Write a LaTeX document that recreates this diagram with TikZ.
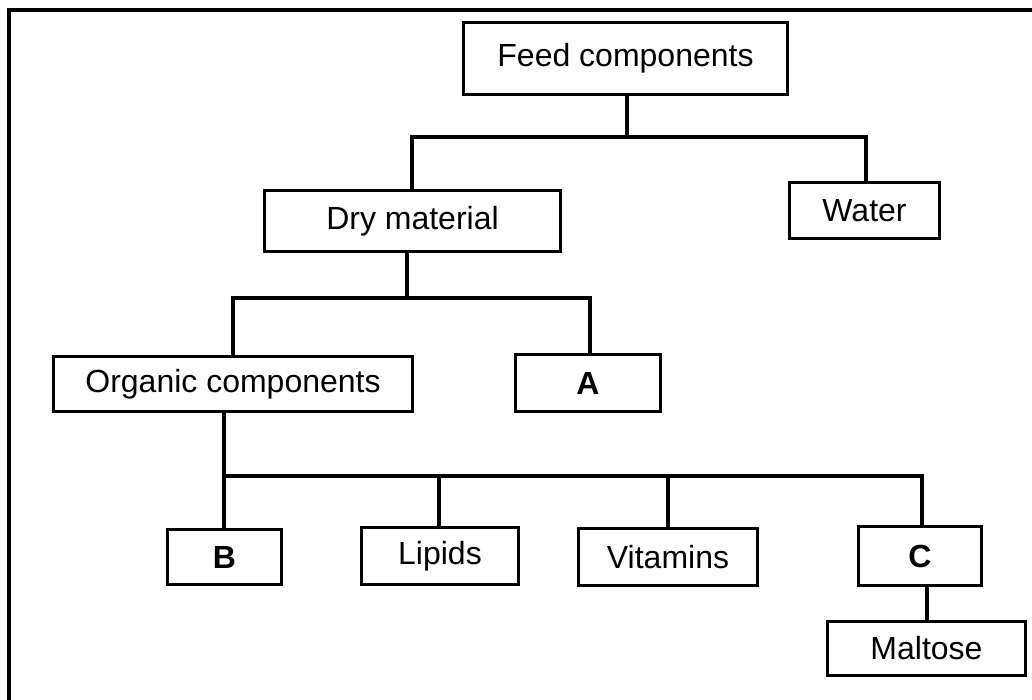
\documentclass[tikz,border=0pt]{standalone}
\usepackage{fontspec}
\setmainfont{Liberation Sans}
\begin{document}
\begin{tikzpicture}[x=1pt,y=-1pt,
  box/.style={draw, line width=3pt, rectangle, inner sep=0pt, font=\fontsize{32}{38}\selectfont},
  conn/.style={draw, line width=4pt, line join=miter},
  frame/.style={draw, line width=4pt}]
\useasboundingbox (0,0) rectangle (1032,700);
\clip (0,0) rectangle (1032,700);
% outer frame (cropped at right and bottom)
\draw[frame] (9,720) -- (9,10) -- (1050,10);
% nodes
\node[box, minimum width=324pt, minimum height=72pt] (feed) at (625.5,58.5) {Feed components};
\node[box, minimum width=150pt, minimum height=56pt] (water) at (864.5,210.5) {Water};
\node[box, minimum width=296pt, minimum height=61pt] (dry) at (412.5,221) {Dry material};
\node[box, minimum width=359pt, minimum height=55pt] (org) at (233,384) {Organic components};
\node[box, minimum width=145pt, minimum height=57pt] (a) at (588,383) {\textbf{A}};
\node[box, minimum width=114pt, minimum height=55pt] (b) at (224.5,557) {\textbf{B}};
\node[box, minimum width=157pt, minimum height=57pt] (lip) at (440,556) {Lipids};
\node[box, minimum width=179pt, minimum height=57pt] (vit) at (668,557) {Vitamins};
\node[box, minimum width=123pt, minimum height=59pt] (c) at (920,556) {\textbf{C}};
\node[box, minimum width=198pt, minimum height=54pt] (mal) at (926.5,648.5) {Maltose};
% bus coordinates
\coordinate (b1L) at (412,137);
\coordinate (b1R) at (866,137);
\coordinate (b1M) at (627,137);
\coordinate (b2L) at (233,298);
\coordinate (b2R) at (590,298);
\coordinate (b2M) at (407,298);
\coordinate (b3L) at (224,476);
\coordinate (b3R) at (922,476);
% level 1
\draw[conn] (feed.south -| b1M) -- (b1M);
\draw[conn] (dry.north -| b1L) -- (b1L) -- (b1R) -- (water.north -| b1R);
% level 2
\draw[conn] (dry.south -| b2M) -- (b2M);
\draw[conn] (org.north -| b2L) -- (b2L) -- (b2R) -- (a.north -| b2R);
% level 3
\draw[conn] (org.south -| b3L) -- (b3L);
\draw[conn] (b.north -| b3L) -- (b3L) -- (b3R) -- (c.north -| b3R);
\draw[conn] (lip.north -| 439,0) -- (439,476);
\draw[conn] (vit.north -| 668,0) -- (668,476);
% C to Maltose
\draw[conn] (c.south -| mal.north) -- (mal.north);
\end{tikzpicture}
\end{document}
